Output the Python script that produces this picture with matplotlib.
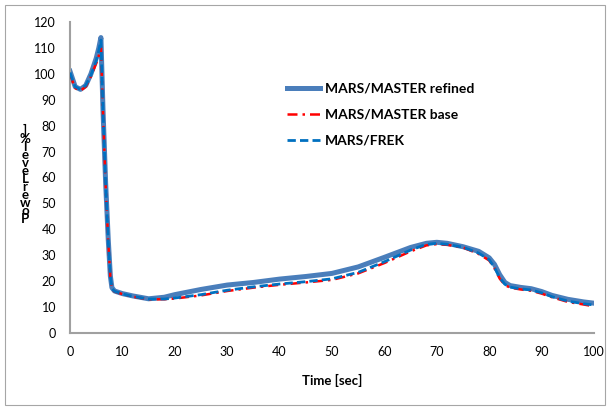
import matplotlib
matplotlib.use('Agg')
import matplotlib.pyplot as plt
from matplotlib.patches import Rectangle

plt.rcParams['font.family'] = ['Lato', 'DejaVu Sans']

# time grid [sec]
t = [0, 0.5, 1, 2, 3, 4, 5, 5.5, 5.9, 6.3, 6.8, 7.3, 7.7, 8.0, 8.5, 10, 12, 15, 18, 20,
     25, 30, 35, 40, 45, 50, 55, 60, 65, 68, 70, 72, 75, 78, 80, 81, 82, 83, 84, 86,
     88, 90, 92, 95, 98, 100]

refined = [101, 98, 95, 94, 95.5, 100, 106, 110, 114, 86, 58, 36, 22, 17.5, 16.2, 15.2, 14.3, 13.2, 13.8, 14.8,
           16.8, 18.5, 19.5, 20.8, 21.8, 23, 25.5, 29.2, 33, 34.6, 35, 34.6, 33.3, 31.5, 29, 26.5, 22.5, 19.5, 18.3, 17.6,
           17.1, 16, 14.5, 13, 12, 11.5]

base = [100, 97, 94.5, 93.5, 95, 99, 104, 107, 110.5, 85, 57, 35, 21.5, 17, 16, 15, 14, 13, 13, 13.3,
        14.5, 16.2, 17.5, 18.6, 19.5, 20.5, 23, 27, 31.5, 33.8, 34.3, 34, 33, 30.5, 28, 25, 21, 18.5, 17.5, 16.8,
        16.3, 15.2, 13.8, 12, 11, 10.3]

frek = [100.5, 97.5, 95, 94, 95.5, 99.5, 105, 109, 113, 86, 57.5, 35.5, 22, 17.2, 16.1, 15.1, 14.1, 13.1, 13.1, 13.5,
        14.8, 16.5, 17.8, 18.9, 19.8, 20.9, 23.4, 27.5, 32, 34.2, 34.6, 34.2, 33.1, 30.8, 28.3, 25.3, 21.3, 18.8, 17.7, 17,
        16.6, 15.5, 14, 12.3, 11.3, 10.8]

fig = plt.figure(figsize=(6.08, 4.07), dpi=100)
fig.patches.append(Rectangle((5 / 608, 2 / 407), 600 / 608, 400 / 407, transform=fig.transFigure,
                             fill=False, edgecolor='#a6a6a6', linewidth=0.8))
ax = fig.add_axes([70 / 608, 1 - 333 / 407, 524 / 608, 311 / 407])

ax.plot(t, refined, color='#4a7ebb', linewidth=3.6, label='MARS/MASTER refined', zorder=2)
ax.plot(t, base, color='#ff0000', linewidth=1.8, linestyle=(0, (4, 2, 1, 2)), label='MARS/MASTER base', zorder=3)
ax.plot(t, frek, color='#0070c0', linewidth=2.0, linestyle=(0, (3, 1.5)), label='MARS/FREK', zorder=4)

ax.set_xlim(0, 100)
ax.set_ylim(0, 120)
ax.set_xticks(range(0, 101, 10))
ax.set_yticks(range(0, 121, 10))
ax.tick_params(length=0, labelsize=9, colors='black')
ax.tick_params(axis='y', pad=10)
ax.tick_params(axis='x', pad=9)
for s in ['top', 'right']:
    ax.spines[s].set_visible(False)
for s in ['left', 'bottom']:
    ax.spines[s].set_color('#a0a0a0')
    ax.spines[s].set_linewidth(1.5)

ax.set_xlabel('Time [sec]', fontsize=9.5, fontweight='bold', labelpad=12)

# garbled stacked y label as in the original
ylabel_chars = list(']%leveLrewoP')
fig.text(25 / 608, 1 - 174 / 407, '\n'.join(ylabel_chars), ha='center', va='center',
         fontsize=9.5, fontweight='bold', linespacing=0.6)

leg = ax.legend(loc='upper left', bbox_to_anchor=(0.39, 0.845), frameon=False, fontsize=10,
                handlelength=2.4, labelspacing=1.0, handletextpad=0.35)
for txt in leg.get_texts():
    txt.set_fontweight('bold')

fig.savefig('out.png', dpi=100)
